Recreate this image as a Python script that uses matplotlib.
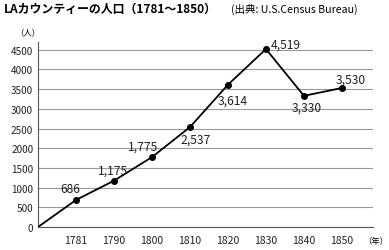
import matplotlib
matplotlib.use("Agg")
import matplotlib.pyplot as plt

plt.rcParams['font.family'] = ['Noto Sans CJK JP', 'DejaVu Sans']

years = ["1781", "1790", "1800", "1810", "1820", "1830", "1840", "1850"]
population = [686, 1175, 1775, 2537, 3614, 4519, 3330, 3530]
labels = ["686", "1,175", "1,775", "2,537", "3,614", "4,519", "3,330", "3,530"]
# label offsets in points (dx, dy)
offsets = [(-4.3, 8), (-1, 7.5), (-6.5, 7.5), (4.3, -8.5), (3.6, -11), (14.4, 3.6), (2, -8), (6.5, 6.5)]

fig = plt.figure(figsize=(3.89, 2.51), dpi=100)
ax = fig.add_axes([0.098, 0.092, 0.861, 0.737])

xs = list(range(1, len(years) + 1))
ax.plot([0] + xs, [0] + population, color="black", lw=1.3, zorder=3)
ax.plot(xs, population, "o", color="black", ms=4, zorder=4)

for x, y, t, (dx, dy) in zip(xs, population, labels, offsets):
    ax.annotate(t, (x, y), xytext=(dx, dy), textcoords="offset points",
                ha="center", va="center", fontsize=8.7, color="#222222")

ax.set_xlim(0, 8.82)
ax.set_ylim(0, 4700)
ax.set_yticks(range(0, 4501, 500))
ax.set_xticks(xs)
ax.set_xticklabels(years)
ax.yaxis.grid(True, color="#999999", lw=0.8)
ax.set_axisbelow(True)
for s in ["top", "right"]:
    ax.spines[s].set_visible(False)
ax.spines["left"].set_color("#555555")
ax.spines["bottom"].set_color("#555555")
ax.tick_params(axis="y", length=0, labelsize=7.2, colors="#222222")
ax.tick_params(axis="x", length=0, labelsize=7.5, colors="#222222", pad=6)

fig.text(0.01, 0.963, "LAカウンティーの人口（1781～1850）", fontsize=8.6, fontweight="bold",
         va="center", ha="left")
fig.text(0.595, 0.963, "(出典: U.S.Census Bureau)", fontsize=7.6, va="center", ha="left")
fig.text(0.04, 0.87, "（人）", fontsize=6, va="center", ha="left")
fig.text(0.935, 0.036, "（年）", fontsize=6, va="center", ha="left")

fig.savefig("out.png", dpi=100)
